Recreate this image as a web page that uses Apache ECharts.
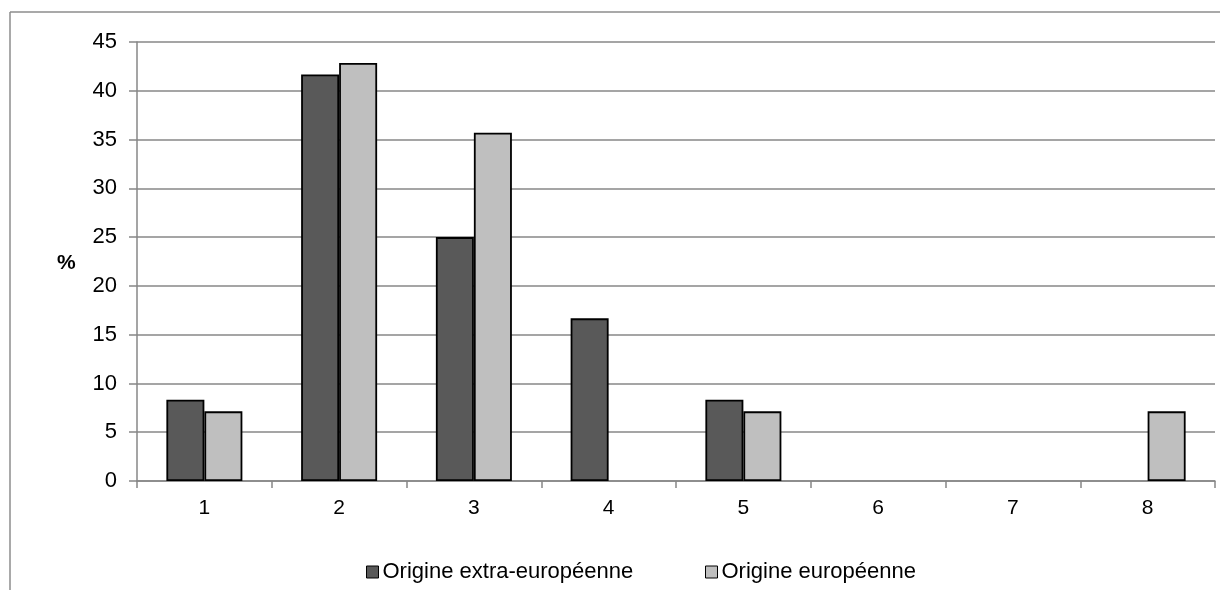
<!DOCTYPE html>
<html><head><meta charset="utf-8">
<script src="https://cdn.jsdelivr.net/npm/echarts@6/dist/echarts.min.js"></script>
<style>html,body{margin:0;padding:0;background:#fff}#c{width:1220px;height:590px}</style>
</head><body><div id="c"></div>
<script>
const categories = ['1','2','3','4','5','6','7','8'];
const extraEuropeenne = [8.33, 41.67, 25, 16.67, 8.33, 0, 0, 0];
const europeenne = [7.14, 42.86, 35.71, 0, 7.14, 0, 0, 7.14];
const seriesNames = ['Origine extra-européenne', 'Origine européenne'];
const yTicks = {min: 0, max: 45, interval: 5};

const chart = echarts.init(document.getElementById('c'), null, {renderer: 'canvas'});
const font = 'Liberation Sans, Arial, sans-serif';
const hideZero = a => a.map(v => v === 0 ? '-' : v);
const legendBase = {
  top: 556, itemWidth: 12, itemHeight: 12, icon: 'rect', orient: 'horizontal',
  textStyle: {fontFamily: font, fontSize: 22, color: '#000', padding: [0, 0, 0, -1]},
  itemStyle: {borderColor: '#000', borderWidth: 1}
};
chart.setOption({
  animation: false,
  graphic: [
    {type: 'line', shape: {x1: 10, y1: 12, x2: 1220, y2: 12}, style: {stroke: '#8c8c8c', lineWidth: 1.5}},
    {type: 'line', shape: {x1: 10, y1: 12, x2: 10, y2: 590}, style: {stroke: '#8c8c8c', lineWidth: 1.5}},
    {type: 'text', left: 57, top: 253, style: {text: '%', font: 'bold 21px ' + font, fill: '#000'}}
  ],
  grid: {left: 137, right: 5, top: 42, bottom: 109, containLabel: false},
  legend: [
    Object.assign({left: 361, data: [seriesNames[0]]}, legendBase),
    Object.assign({left: 700, data: [seriesNames[1]]}, legendBase)
  ],
  xAxis: {
    type: 'category', data: categories,
    axisLine: {lineStyle: {color: '#878787', width: 1.5}},
    axisTick: {show: true, length: 7, lineStyle: {color: '#878787', width: 1.5}},
    axisLabel: {fontFamily: font, fontSize: 21, color: '#000', margin: 17}
  },
  yAxis: {
    type: 'value', min: yTicks.min, max: yTicks.max, interval: yTicks.interval,
    axisLine: {show: true, lineStyle: {color: '#878787', width: 1.5}},
    axisTick: {show: true, length: 8, lineStyle: {color: '#878787', width: 1.5}},
    axisLabel: {fontFamily: font, fontSize: 22, color: '#000', margin: 20},
    splitLine: {lineStyle: {color: '#878787', width: 1.5}}
  },
  series: [
    {name: seriesNames[0], type: 'bar', data: hideZero(extraEuropeenne), barWidth: 38, barGap: '0%',
     itemStyle: {color: '#595959', borderColor: '#000', borderWidth: 1.8}},
    {name: seriesNames[1], type: 'bar', data: hideZero(europeenne), barWidth: 38, barGap: '0%',
     itemStyle: {color: '#bfbfbf', borderColor: '#000', borderWidth: 1.8}}
  ]
});
</script></body></html>
